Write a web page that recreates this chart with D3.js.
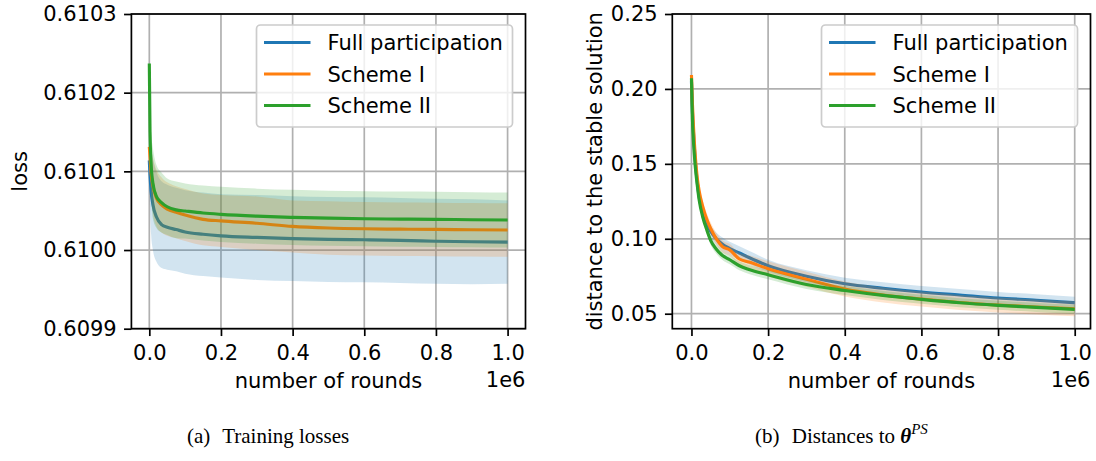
<!DOCTYPE html>
<html>
<head>
<meta charset="utf-8">
<script src="https://cdn.jsdelivr.net/npm/d3@7"></script>
<style>
  body { margin: 0; background: #fff; }
  svg { display: block; }
  text { font-family: 'DejaVu Sans', sans-serif; fill: #000; }
  .caption { font-family: 'Liberation Serif', 'Times New Roman', serif; }
</style>
</head>
<body>
<div id="chart"></div>
<script>
// ---------------- data ----------------
var seriesNames = ['Full participation', 'Scheme I', 'Scheme II']
var seriesColors = ['#1f77b4', '#ff7f0e', '#2ca02c']

// (a) training losses
var lossRounds = [0, 2000, 5000, 10000, 20000, 35000, 50000, 75000, 100000, 150000, 200000,
  300000, 400000, 500000, 600000, 700000, 800000, 900000, 1000000]
var lossFullMean = [0.610114, 0.610095, 0.610075, 0.610058, 0.610042, 0.610032, 0.610029, 0.610026,
  0.610023, 0.61002, 0.610018, 0.610016, 0.6100145, 0.6100135, 0.610013, 0.6100122, 0.6100112,
  0.6100105, 0.61001]
var lossFullStd = [0.000008, 0.00004, 0.000055, 0.000058, 0.000057, 0.000055, 0.000054, 0.000053,
  0.000053, 0.000053, 0.000053, 0.000054, 0.000054, 0.000054, 0.000054, 0.000054, 0.000054,
  0.000054, 0.000053]
var lossS1Mean = [0.610131, 0.610118, 0.610098, 0.610082, 0.610066, 0.610057, 0.610052, 0.610048,
  0.6100445, 0.610039, 0.610037, 0.610034, 0.61003, 0.610028, 0.610027, 0.6100265, 0.6100262,
  0.6100258, 0.6100254]
var lossS1Std = [0.000005, 0.00002, 0.00003, 0.000035, 0.000036, 0.000035, 0.000034, 0.000033,
  0.000033, 0.000033, 0.000033, 0.000034, 0.000033, 0.000034, 0.000034, 0.000034, 0.000034,
  0.000034, 0.000034]
var lossS2Mean = [0.610237, 0.61015, 0.61011, 0.610085, 0.610068, 0.61006, 0.610055, 0.610051,
  0.6100496, 0.610047, 0.6100453, 0.610043, 0.6100415, 0.6100405, 0.6100398, 0.6100393, 0.610039,
  0.6100385, 0.6100381]
var lossS2Std = [0.000005, 0.00003, 0.00004, 0.000045, 0.00004, 0.000038, 0.000036, 0.000036,
  0.000035, 0.000035, 0.000035, 0.000035, 0.000035, 0.000035, 0.000035, 0.000035, 0.000035,
  0.000035, 0.000035]
var lossTicks = [0.6099, 0.61, 0.6101, 0.6102, 0.6103]

// (b) distances to the stable solution
var distRounds = [0, 2500, 5000, 10000, 15000, 20000, 30000, 40000, 50000, 65000, 80000, 100000,
  125000, 150000, 200000, 300000, 400000, 500000, 600000, 700000, 800000, 900000, 1000000]
var distFullMean = [0.205, 0.185, 0.172, 0.152, 0.138, 0.128, 0.117, 0.11, 0.105, 0.1, 0.0965,
  0.0935, 0.0905, 0.0875, 0.082, 0.075, 0.07, 0.067, 0.0645, 0.0625, 0.0605, 0.059, 0.0573]
var distFullStd = [0.001, 0.003, 0.004, 0.004, 0.004, 0.004, 0.004, 0.004, 0.004, 0.004, 0.0045,
  0.0045, 0.0045, 0.0045, 0.004, 0.004, 0.004, 0.004, 0.004, 0.004, 0.004, 0.004, 0.004]
var distS1Mean = [0.2093, 0.19, 0.176, 0.155, 0.141, 0.132, 0.121, 0.113, 0.107, 0.1, 0.095,
  0.0925, 0.0865, 0.0845, 0.08, 0.073, 0.0665, 0.0625, 0.0598, 0.0575, 0.0558, 0.0545, 0.0533]
var distS1Std = [0.001, 0.003, 0.004, 0.004, 0.004, 0.004, 0.004, 0.004, 0.004, 0.004, 0.004,
  0.004, 0.004, 0.0045, 0.005, 0.005, 0.005, 0.005, 0.005, 0.005, 0.005, 0.005, 0.005]
var distS2Mean = [0.2071, 0.18, 0.166, 0.148, 0.136, 0.126, 0.114, 0.106, 0.099, 0.093, 0.089,
  0.086, 0.082, 0.0795, 0.076, 0.0695, 0.0655, 0.0622, 0.0596, 0.0573, 0.0556, 0.0542, 0.0529]
var distS2Std = [0.001, 0.003, 0.003, 0.003, 0.003, 0.003, 0.003, 0.003, 0.003, 0.003, 0.003,
  0.003, 0.003, 0.003, 0.003, 0.003, 0.003, 0.003, 0.003, 0.003, 0.003, 0.003, 0.003]
var distTicks = [0.05, 0.1, 0.15, 0.2, 0.25]

var roundTicks = [0, 200000, 400000, 600000, 800000, 1000000]

// ---------------- drawing ----------------
var W = 1096, H = 461
var fontSize = 21

var svg = d3.select('#chart').append('svg').attr('width', W).attr('height', H)

// one panel = axes box + grid + bands + lines + legend
function drawPanel(opt) {
  var x = d3.scaleLinear().domain(opt.xDomain).range([opt.left, opt.right])
  var y = d3.scaleLinear().domain(opt.yDomain).range([opt.bottom, opt.top])

  var g = svg.append('g')

  g.append('clipPath').attr('id', opt.id + '-clip')
    .append('rect')
    .attr('x', opt.left).attr('y', opt.top)
    .attr('width', opt.right - opt.left).attr('height', opt.bottom - opt.top)

  // grid
  g.append('g').selectAll('line').data(roundTicks).enter().append('line')
    .attr('x1', function (d) { return x(d) }).attr('x2', function (d) { return x(d) })
    .attr('y1', opt.top).attr('y2', opt.bottom)
    .attr('stroke', '#b0b0b0').attr('stroke-width', 1.7)
  g.append('g').selectAll('line').data(opt.yTicks).enter().append('line')
    .attr('y1', function (d) { return y(d) }).attr('y2', function (d) { return y(d) })
    .attr('x1', opt.left).attr('x2', opt.right)
    .attr('stroke', '#b0b0b0').attr('stroke-width', 1.7)

  var plot = g.append('g').attr('clip-path', 'url(#' + opt.id + '-clip)')

  // every series: line first, then its std band on top (as in the picture)
  opt.series.forEach(function (s, i) {
    var pts = opt.rounds.map(function (r, k) {
      return { r: r, m: s.mean[k], sd: s.std[k] }
    })
    var line = d3.line()
      .x(function (d) { return x(d.r) })
      .y(function (d) { return y(d.m) })
      .curve(d3.curveMonotoneX)
    var area = d3.area()
      .x(function (d) { return x(d.r) })
      .y0(function (d) { return y(d.m - d.sd) })
      .y1(function (d) { return y(d.m + d.sd) })
      .curve(d3.curveMonotoneX)

    plot.append('path').datum(pts)
      .attr('d', line)
      .attr('fill', 'none')
      .attr('stroke', seriesColors[i])
      .attr('stroke-width', 3.15)
      .attr('stroke-linejoin', 'round')
    plot.append('path').datum(pts)
      .attr('d', area)
      .attr('fill', seriesColors[i])
      .attr('fill-opacity', 0.2)
  })

  // axes
  var xAxis = d3.axisBottom(x).tickValues(roundTicks)
    .tickFormat(function (d) { return d3.format('.1f')(d / 1e6) })
    .tickSize(7.35).tickPadding(9)
  var yAxis = d3.axisLeft(y).tickValues(opt.yTicks)
    .tickFormat(d3.format(opt.yFormat))
    .tickSize(7.35).tickPadding(7.35)

  var gx = g.append('g').attr('transform', 'translate(0,' + opt.bottom + ')').call(xAxis)
  var gy = g.append('g').attr('transform', 'translate(' + opt.left + ',0)').call(yAxis)
  ;[gx, gy].forEach(function (a) {
    a.select('.domain').remove()
    a.selectAll('.tick line').attr('stroke', '#000').attr('stroke-width', 1.7)
    a.selectAll('.tick text').style('font-size', fontSize + 'px').attr('fill', '#000')
  })

  // spines
  g.append('rect')
    .attr('x', opt.left).attr('y', opt.top)
    .attr('width', opt.right - opt.left).attr('height', opt.bottom - opt.top)
    .attr('fill', 'none').attr('stroke', '#000').attr('stroke-width', 1.7)

  // labels
  g.append('text')
    .attr('x', (opt.left + opt.right) / 2).attr('y', 388)
    .attr('text-anchor', 'middle').style('font-size', fontSize + 'px')
    .text('number of rounds')
  g.append('text')
    .attr('x', opt.right).attr('y', 387)
    .attr('text-anchor', 'end').style('font-size', fontSize + 'px')
    .text('1e6')
  g.append('text')
    .attr('transform', 'translate(' + opt.yLabelX + ',' + (opt.top + opt.bottom) / 2 + ') rotate(-90)')
    .attr('text-anchor', 'middle').style('font-size', fontSize + 'px')
    .text(opt.yLabel)

  // legend
  var lw = 256, lh = 102
  var lx = opt.right - 13 - lw, ly = opt.top + 11
  var leg = g.append('g')
  leg.append('rect')
    .attr('x', lx).attr('y', ly).attr('width', lw).attr('height', lh)
    .attr('rx', 4).attr('ry', 4)
    .attr('fill', '#fff').attr('fill-opacity', 0.8)
    .attr('stroke', '#cccccc').attr('stroke-width', 1.7)
  seriesNames.forEach(function (name, i) {
    var cy = ly + 17.5 + i * 31.5
    leg.append('line')
      .attr('x1', lx + 7.5).attr('x2', lx + 54)
      .attr('y1', cy).attr('y2', cy)
      .attr('stroke', seriesColors[i]).attr('stroke-width', 3.15)
    leg.append('text')
      .attr('x', lx + 71).attr('y', cy + 7.6)
      .style('font-size', fontSize + 'px')
      .text(name)
  })
}

drawPanel({
  id: 'loss',
  left: 131.4, right: 525.5, top: 14, bottom: 328.7,
  xDomain: [-50000, 1050000],
  yDomain: [0.6099, 0.6103],
  yTicks: lossTicks, yFormat: '.4f',
  yLabel: 'loss', yLabelX: 27,
  rounds: lossRounds,
  series: [
    { mean: lossFullMean, std: lossFullStd },
    { mean: lossS1Mean, std: lossS1Std },
    { mean: lossS2Mean, std: lossS2Std }
  ]
})

drawPanel({
  id: 'dist',
  left: 672.3, right: 1090.5, top: 14, bottom: 328.7,
  xDomain: [-50000, 1041200],
  yDomain: [0.04, 0.25],
  yTicks: distTicks, yFormat: '.2f',
  yLabel: 'distance to the stable solution', yLabelX: 602,
  rounds: distRounds,
  series: [
    { mean: distFullMean, std: distFullStd },
    { mean: distS1Mean, std: distS1Std },
    { mean: distS2Mean, std: distS2Std }
  ]
})

// sub-captions
var capA = svg.append('text').attr('class', 'caption')
  .attr('x', 187).attr('y', 443).style('font-size', '21px')
capA.append('tspan').text('(a)')
capA.append('tspan').attr('dx', 7).text(' Training losses')

var capB = svg.append('text').attr('class', 'caption')
  .attr('x', 755).attr('y', 443).style('font-size', '21px')
capB.append('tspan').text('(b)')
capB.append('tspan').attr('dx', 7).text(' Distances to ')
capB.append('tspan').attr('font-weight', 'bold').attr('font-style', 'italic').text('θ')
capB.append('tspan').attr('font-style', 'italic').attr('dy', -9).style('font-size', '15px').text('PS')
</script>
</body>
</html>
